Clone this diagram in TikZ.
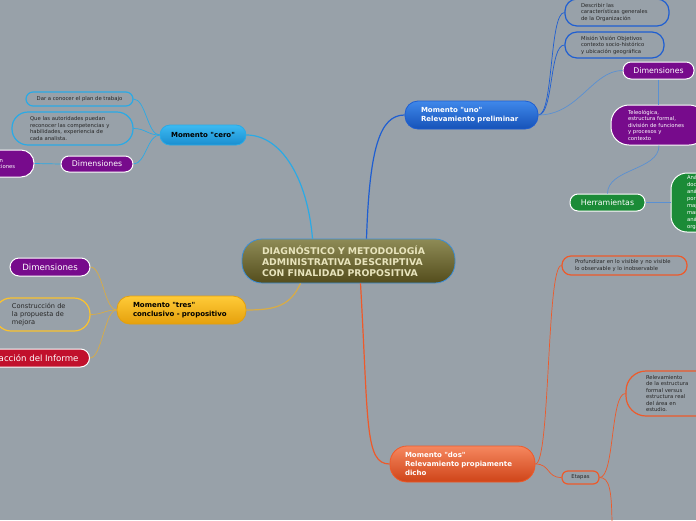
\documentclass[tikz,border=0pt]{standalone}
\usepackage{fontspec}
\setmainfont{DejaVu Sans}
\newfontfamily\mapfont{DejaVu Sans}
\usetikzlibrary{positioning}
\definecolor{bggrey}{HTML}{98A1A9}
\definecolor{olivetop}{HTML}{8E8B56}
\definecolor{olivebot}{HTML}{544D1C}
\definecolor{oliveline}{HTML}{3C8ED6}
\definecolor{creamtext}{HTML}{E8E4BC}
\definecolor{unotop}{HTML}{3F88EA}
\definecolor{unobot}{HTML}{1652B8}
\definecolor{unoline}{HTML}{1E5ED2}
\definecolor{dimline}{HTML}{5A90D2}
\definecolor{cerotop}{HTML}{3CBAF2}
\definecolor{cerobot}{HTML}{1A8ED0}
\definecolor{celine}{HTML}{2AAAE6}
\definecolor{trestop}{HTML}{FFCB38}
\definecolor{tresbot}{HTML}{E5A00C}
\definecolor{tresline}{HTML}{D9AC45}
\definecolor{dostop}{HTML}{F5875F}
\definecolor{dosbot}{HTML}{CF4418}
\definecolor{dosline}{HTML}{EE5A2A}
\definecolor{purp}{HTML}{770B8C}
\definecolor{grn}{HTML}{1B8B37}
\definecolor{crim}{HTML}{C1102C}
\tikzset{
  topic/.style={rectangle, draw, line width=0.8pt, align=left, inner ysep=0pt,
    font=\mapfont\bfseries\fontsize{7}{9}\selectfont},
  leaf/.style={rectangle, draw, line width=1.2pt, align=left, inner ysep=0pt,
    text=black!85, font=\mapfont\fontsize{5.3}{6.5}\selectfont},
  tag/.style={rectangle, draw=white, line width=1pt, text=white, inner ysep=0pt,
    font=\mapfont\fontsize{7.8}{9}\selectfont},
  link/.style={line width=0.7pt},
}

\begin{document}
\begin{tikzpicture}[x=1pt, y=-1pt]
\newcommand\Hx{15}

\useasboundingbox (0,0) rectangle (696,520);
\fill[bggrey] (0,0) rectangle (696,520);
\clip (0,0) rectangle (696,520);

% centre
\node[topic, draw=oliveline, top color=olivetop, bottom color=olivebot, text=creamtext,
  rounded corners=20pt, minimum height=44pt, inner xsep=20pt, text width=173pt,
  font=\mapfont\bfseries\fontsize{9.3}{11}\selectfont] (central) at (348.5,261)
  {DIAGNÓSTICO Y METODOLOGÍA\\ ADMINISTRATIVA DESCRIPTIVA\\ CON FINALIDAD PROPOSITIVA};

% momento uno
\node[topic, draw=unoline, top color=unotop, bottom color=unobot, text=white,
  rounded corners=13pt, minimum height=28pt, inner xsep=16pt, text width=101pt]
  (uno) at (471.5,115) {Momento "uno"\\ Relevamiento preliminar};
\node[leaf, draw=unoline, rounded corners=12pt, minimum height=27pt, inner xsep=16pt,
  text width=72pt] (desc) at (617,12.5)
  {Describir las\\ características generales\\ de la Organización};
\node[leaf, draw=unoline, rounded corners=12pt, minimum height=26pt, inner xsep=16pt,
  text width=67pt] (mision) at (614.5,45)
  {Misión Visión Objetivos\\ contexto socio-histórico\\ y ubicación geográfica};
\node[tag, fill=purp, rounded corners=8pt, minimum width=71pt, minimum height=17pt]
  (dimuno) at (658.5,70.5) {Dimensiones};
\node[leaf, draw=white, fill=purp, text=white, line width=1pt, rounded corners=18pt,
  minimum height=40pt, inner xsep=17pt, text width=62pt] (teleo) at (659,125)
  {Teleológica,\\ estructura formal,\\ división de funciones\\ y procesos y\\ contexto};
\node[tag, fill=grn, rounded corners=8pt, minimum width=75pt, minimum height=17pt]
  (herr) at (607.5,202.5) {Herramientas};
\node[leaf, draw=white, fill=grn, text=white, line width=1pt, rounded corners=16pt,
  minimum height=59pt, inner xsep=16pt, text width=60pt,
  font=\mapfont\fontsize{5.3}{6.9}\selectfont] (anal) at (717,202.5)
  {Análisis\\ documental,\\ análisis\\ por\\ mapas\\ manuales\\ análisis\\ organizacional};

% momento cero
\node[topic, draw=celine, top color=cerotop, bottom color=cerobot, text=black,
  rounded corners=10pt, minimum width=86pt, minimum height=20pt, align=center]
  (cero) at (203,135) {Momento "cero"};
\node[leaf, draw=celine, rounded corners=7pt, minimum width=107pt, minimum height=14pt,
  align=center] (dar) at (79.5,99) {Dar a conocer el plan de trabajo};
\node[leaf, draw=celine, rounded corners=16pt, minimum height=33pt, inner xsep=18pt,
  text width=85pt] (que) at (72.5,128.5)
  {Que las autoridades puedan\\ reconocer las competencias y\\ habilidades, experiencia de\\ cada analista.};
\node[tag, fill=purp, rounded corners=8pt, minimum width=72pt, minimum height=16pt]
  (dimcero) at (97,164) {Dimensiones};
\node[leaf, draw=white, fill=purp, text=white, line width=1pt, rounded corners=13pt,
  minimum height=27pt, inner xsep=14pt, text width=48pt] (dimdesc) at (-4,163.5)
  {Descripción\\ de las funciones};

% momento tres
\node[topic, draw=tresbot, top color=trestop, bottom color=tresbot, text=black,
  rounded corners=13pt, minimum height=28pt, inner xsep=16pt, text width=97pt]
  (tres) at (181.5,310) {Momento "tres"\\ conclusivo - propositivo};
\node[tag, fill=purp, rounded corners=9pt, minimum width=80pt, minimum height=18pt,
  font=\mapfont\fontsize{8.6}{10}\selectfont] (dimtres) at (50,267) {Dimensiones};
\node[leaf, draw=trestop!80!tresbot, rounded corners=16pt, minimum height=33pt,
  inner xsep=17pt, text width=61pt, font=\mapfont\fontsize{6.6}{8}\selectfont]
  (constr) at (42.5,314.5) {Construcción de\\ la propuesta de\\ mejora};
\node[tag, fill=crim, rounded corners=9pt, minimum height=18pt, inner xsep=11pt,
  font=\mapfont\fontsize{8.6}{10}\selectfont, anchor=east] (redac) at (90,358)
  {Redacción del Informe};

% momento dos
\node[topic, draw=dosline, top color=dostop, bottom color=dosbot, text=white,
  rounded corners=17pt, minimum height=36pt, inner xsep=15pt, text width=115pt]
  (dos) at (462.5,464) {Momento "dos"\\ Relevamiento propiamente\\ dicho};
\node[leaf, draw=dosline, rounded corners=9pt, minimum height=19pt, inner xsep=13pt,
  text width=99pt] (prof) at (624.5,265.5)
  {Profundizar en lo visible y no visible\\ lo observable y lo inobservable};
\node[leaf, draw=dosline, rounded corners=6pt, minimum width=37pt, minimum height=13pt,
  align=center] (etapas) at (580.5,477.5) {Etapas};
\node[leaf, draw=dosline, rounded corners=20pt, minimum height=45pt, inner xsep=20pt,
  text width=54pt] (relev) at (673,393.5)
  {Relevamiento\\ de la estructura\\ formal versus\\ estructura real\\ del área en\\ estudio.};
\coordinate (etapasdown) at (612,530);

% centre links
\draw[line width=1.2pt, color=unoline] ([xshift=18pt]central.north)
  .. controls +(3,-90) and +(-25,0) .. (uno.west);
\draw[line width=1.2pt, color=celine] ([xshift=-36pt]central.north)
  .. controls +(-5,-60) and +(35,0) .. (cero.east);
\draw[line width=1.2pt, color=tresline] ([xshift=-48pt]central.south)
  .. controls +(-10,22) and +(30,0) .. (tres.east);
\draw[line width=1.2pt, color=dosline] ([xshift=12pt]central.south)
  .. controls +(8,140) and +(-25,0) .. (dos.west);

% uno
\draw[link, color=unoline] (uno.east) .. controls +(\Hx,0) and +(-\Hx,0) .. (desc.west);
\draw[link, color=unoline] (uno.east) .. controls +(\Hx,0) and +(-\Hx,0) .. (mision.west);
\draw[link, color=dimline] (uno.east) .. controls +(40,0) and +(-30,0) .. (dimuno.west);
\draw[link, color=dimline] (dimuno.south) -- (dimuno.south |- teleo.north);
\draw[link, color=dimline] (teleo.south) .. controls +(0,25) and +(0,-25) .. (herr.north);
\draw[link, color=dimline] (herr.east) -- (anal.west);

% cero
\draw[link, color=celine] (cero.west) .. controls +(-12,0) and +(12,0) .. (dar.east);
\draw[link, color=celine] (cero.west) .. controls +(-12,0) and +(12,0) .. (que.east);
\draw[link, color=celine] (cero.west) .. controls +(-12,0) and +(12,0) .. (dimcero.east);
\draw[link, color=celine] (dimcero.west) -- (dimdesc.east);

% tres
\draw[link, color=tresline] (tres.west) .. controls +(-12,0) and +(12,0) .. (dimtres.east);
\draw[link, color=tresline] (tres.west) .. controls +(-12,0) and +(12,0) .. (constr.east);
\draw[link, color=tresline] (tres.west) .. controls +(-12,0) and +(12,0) .. (redac.east);

% dos
\draw[link, color=dosline] (dos.east) .. controls +(\Hx,0) and +(-\Hx,0) .. (prof.west);
\draw[link, color=dosline] (dos.east) .. controls +(\Hx,0) and +(-\Hx,0) .. (etapas.west);
\draw[link, color=dosline] (etapas.east) .. controls +(\Hx,0) and +(-\Hx,0) .. (relev.west);
\draw[link, color=dosline] (etapas.east) .. controls +(10,0) and +(0,-40) .. (etapasdown);
\end{tikzpicture}
\end{document}
